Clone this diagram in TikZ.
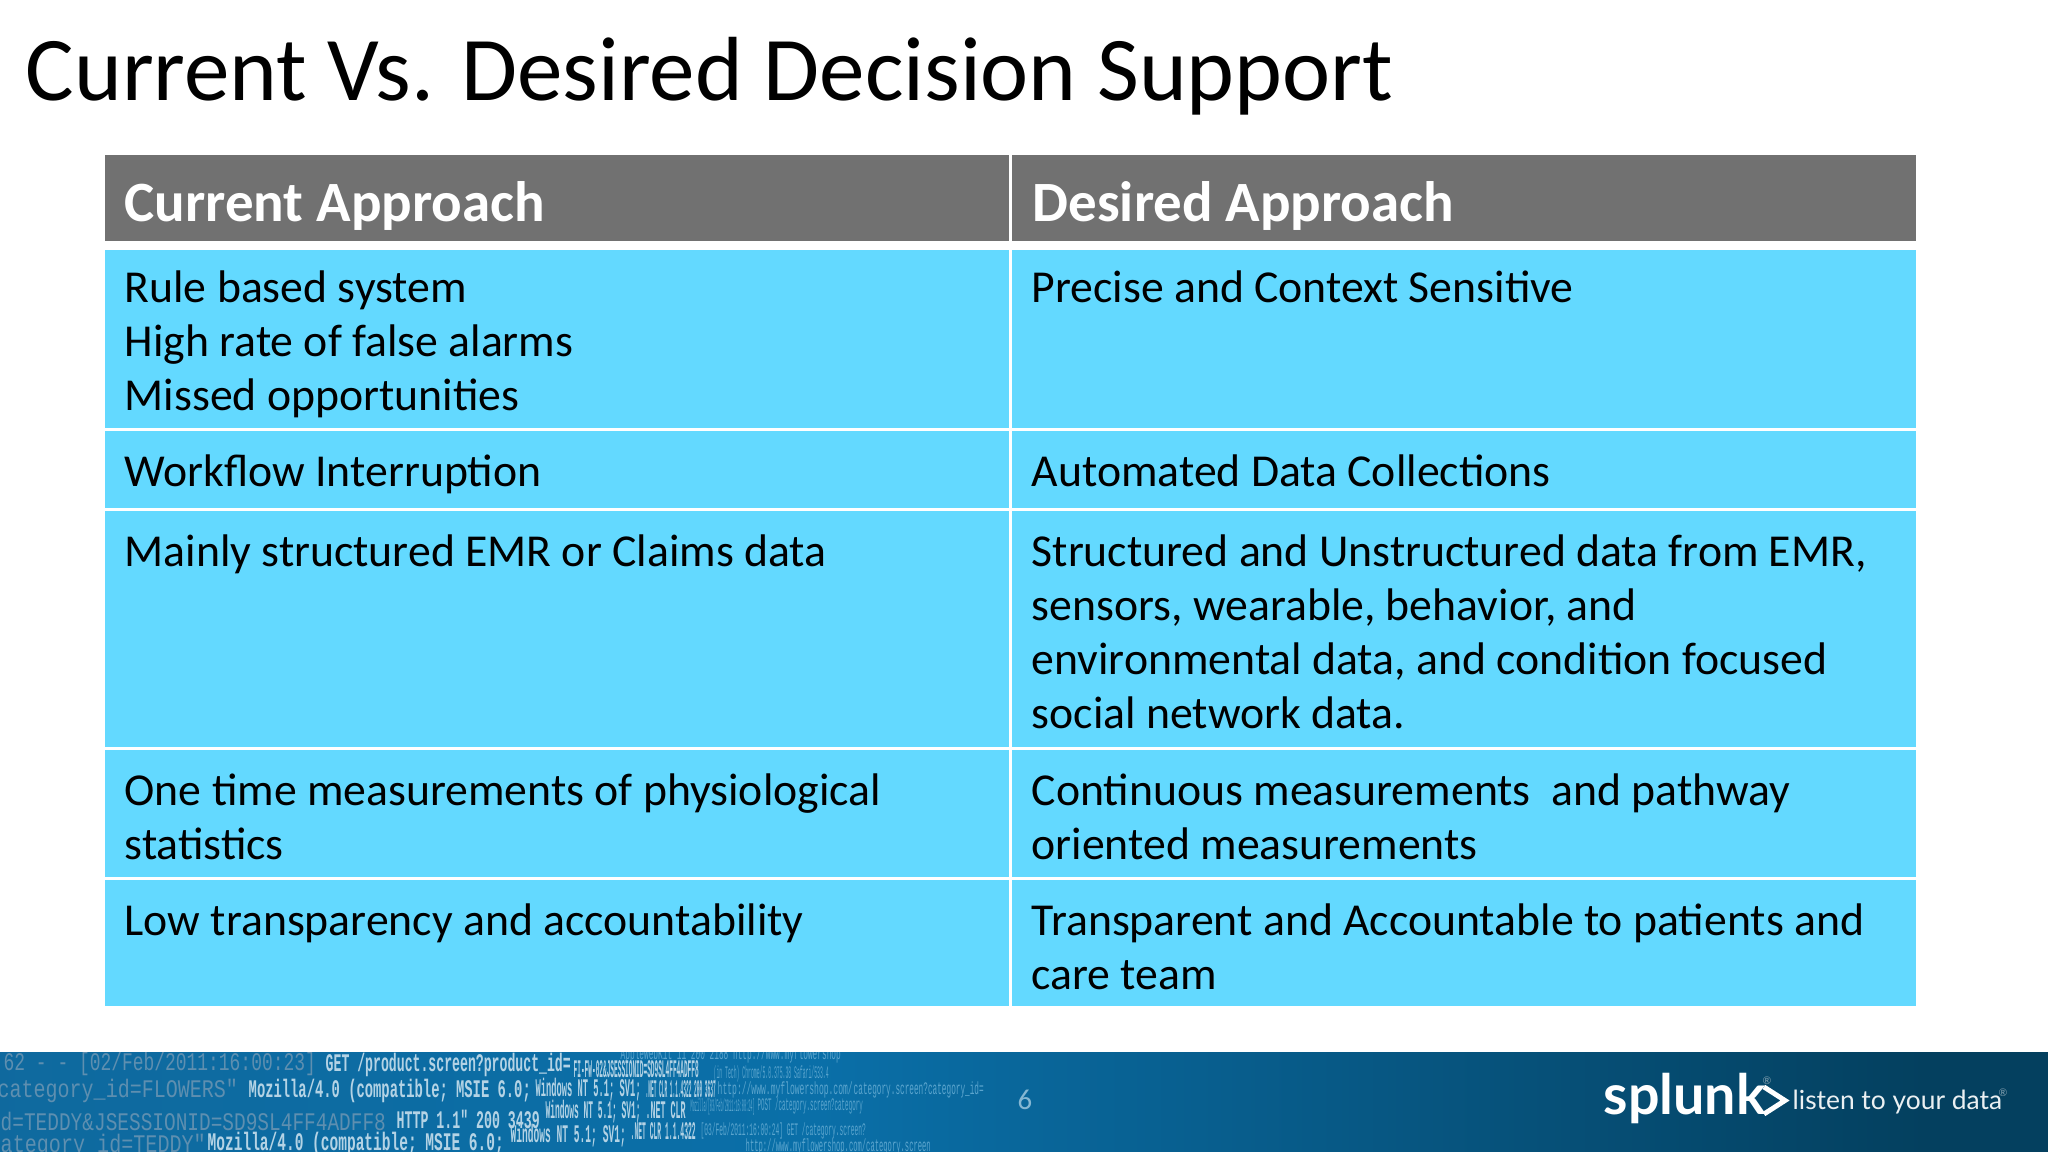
\documentclass[tikz,border=0pt]{standalone}
\usepackage{fontspec}
\setmainfont{Carlito}
\newfontfamily\logofont{Lato}
\newfontfamily\logmono{Liberation Mono}
\definecolor{footleft}{HTML}{2A6088}
\definecolor{footnear}{HTML}{10689C}
\definecolor{footmid}{HTML}{0A6FA8}
\definecolor{footright}{HTML}{04405F}
\definecolor{headgray}{HTML}{717171}
\definecolor{cellblue}{HTML}{63D9FF}
\definecolor{logdim}{HTML}{5E8FB0}
\definecolor{logbright}{HTML}{B4D3E5}
\definecolor{logfaint}{HTML}{5BA5CE}
\pgfdeclarehorizontalshading{footshade}{100bp}{
	color(0bp)=(footleft); color(20bp)=(footnear); color(45bp)=(footmid); color(72bp)=(footright); color(100bp)=(footright)}
\tikzset{
	headcell/.style = {fill = headgray},
	bodycell/.style = {fill = cellblue},
	titletext/.style = {anchor = north west, inner sep = 0pt, font = \fontsize{25.9}{32}\selectfont},
	headtext/.style = {anchor = north west, inner sep = 0pt, text = white, font = \fontsize{16.2}{18}\selectfont\bfseries},
	celltext/.style = {anchor = north west, inner sep = 0pt, align = left, font = \fontsize{13}{15.4}\selectfont},
	logdimseg/.style = {anchor = west, inner sep = 0pt, text = logdim, font = \logmono\fontsize{7.2}{8}\selectfont},
	logseg/.style = {anchor = west, inner sep = 0pt, text = logbright, font = \logmono\fontsize{7.2}{8}\selectfont\bfseries},
	logfaintseg/.style = {anchor = west, inner sep = 0pt, text = logfaint, font = \logmono\fontsize{5}{6}\selectfont}
}
\newcommand{\logpart}[6]{\node[#1] (#2) at (#3, #4) {\resizebox{#5cm}{\height}{#6}};}
\begin{document}
\begin{tikzpicture}[x = 0.01cm, y = -0.01cm]
		\useasboundingbox (0,0) rectangle (2048,1152);
		\fill[white] (0,0) rectangle (2048,1152);
		\node[titletext] (title) at (25, 37) {Current Vs. Desired Decision Support};
		% header
		\fill[headcell] (105,155) rectangle (1009,241);
		\fill[headcell] (1012,155) rectangle (1916,241);
		\node[headtext] (headcur) at (124, 181) {Current Approach};
		\node[headtext] (headdes) at (1032, 181) {Desired Approach};
		% rows
		\fill[bodycell] (105,250) rectangle (1009,428);
		\fill[bodycell] (1012,250) rectangle (1916,428);
		\fill[bodycell] (105,431) rectangle (1009,508);
		\fill[bodycell] (1012,431) rectangle (1916,508);
		\fill[bodycell] (105,511) rectangle (1009,747);
		\fill[bodycell] (1012,511) rectangle (1916,747);
		\fill[bodycell] (105,750) rectangle (1009,877);
		\fill[bodycell] (1012,750) rectangle (1916,877);
		\fill[bodycell] (105,880) rectangle (1009,1006);
		\fill[bodycell] (1012,880) rectangle (1916,1006);
		\node[celltext] (cura) at (124, 270) {Rule based system\\High rate of false alarms\\Missed opportunities};
		\node[celltext] (desa) at (1031, 270) {Precise and Context Sensitive};
		\node[celltext] (curb) at (124, 454) {Workflow Interruption};
		\node[celltext] (desb) at (1031, 454) {Automated Data Collections};
		\node[celltext] (curc) at (124, 534) {Mainly structured EMR or Claims data};
		\node[celltext] (desc) at (1031, 534) {Structured and Unstructured data from EMR,\\sensors, wearable, behavior, and\\environmental data, and condition focused\\social network data.};
		\node[celltext] (curd) at (124, 773) {One time measurements of physiological\\statistics};
		\node[celltext] (desd) at (1031, 773) {Continuous measurements \ and pathway\\oriented measurements};
		\node[celltext] (cure) at (124, 903) {Low transparency and accountability};
		\node[celltext] (dese) at (1031, 903) {Transparent and Accountable to patients and\\care team};
		% footer
		\shade[shading = footshade] (0,1052) rectangle (2048,1152);
		\begin{scope}
			\clip (0,1052) rectangle (2048,1152);
			\logpart{logfaintseg}{logtop}{620}{1055}{2.2}{AppleWebKit 11 200 2188 http://www.myflowershop}
			\logpart{logdimseg}{logaa}{3}{1064}{3.12}{62 - - [02/Feb/2011:16:00:23]}
			\logpart{logseg}{logab}{325}{1065}{2.45}{GET /product.screen?product\_id=}
			\logpart{logseg}{logac}{573}{1069}{1.25}{FI-FW-02\&JSESSIONID=SD9SL4FF4ADFF8}
			\logpart{logfaintseg}{logad}{713}{1074}{1.15}{(in Tech) Chrome/5.0.375.38 Safari/533.4}
			\logpart{logdimseg}{logba}{-3}{1091}{2.4}{category\_id=FLOWERS"}
			\logpart{logseg}{logbb}{248}{1091}{2.82}{Mozilla/4.0 (compatible; MSIE 6.0;}
			\logpart{logseg}{logbc}{535}{1090}{1.05}{Windows NT 5.1; SV1;}
			\logpart{logseg}{logbd}{645}{1089}{0.7}{.NET CLR 1.1.4322 200 3637}
			\logpart{logfaintseg}{logbe}{717}{1090}{1.35}{http://www.myflowershop.com/}
			\logpart{logfaintseg}{logbf}{853}{1090}{1.3}{category.screen?category\_id=}
			\logpart{logdimseg}{logca}{0}{1121}{3.85}{d=TEDDY\&JSESSIONID=SD9SL4FF4ADFF8}
			\logpart{logseg}{logcb}{396}{1119}{1.43}{HTTP 1.1" 200 3439}
			\logpart{logseg}{logcc}{545}{1112}{0.95}{Windows NT 5.1; SV1;}
			\logpart{logseg}{logcd}{645}{1110}{0.4}{.NET CLR}
			\logpart{logfaintseg}{logce}{690}{1107}{0.64}{Mozilla/[03/Feb/2011:16:00:24]}
			\logpart{logfaintseg}{logcf}{757}{1106}{1.05}{POST /category.screen?category}
			\logpart{logdimseg}{logda}{0}{1146}{2.05}{ategory\_id=TEDDY"}
			\logpart{logseg}{logdb}{207}{1144}{2.96}{Mozilla/4.0 (compatible; MSIE 6.0;}
			\logpart{logseg}{logdc}{510}{1136}{1.15}{Windows NT 5.1; SV1;}
			\logpart{logseg}{logdd}{630}{1131}{0.65}{.NET CLR 1.1.4322}
			\logpart{logfaintseg}{logde}{700}{1131}{1.65}{[03/Feb/2011:16:00:24] GET /category.screen?}
			\logpart{logfaintseg}{logea}{745}{1147}{1.85}{http://www.myflowershop.com/category.screen}
		\end{scope}
		\node[inner sep = 0pt, text = white!50!footmid, font = \fontsize{8.2}{10}\selectfont] (pagenum) at (1025, 1100) {6};
		% logo
		\node[anchor = west, inner sep = 0pt, text = white, font = \logofont\fontsize{15.8}{20}\selectfont\bfseries] (logo) at (1603, 1099) {splunk};
		\draw[white, line width = 1.4pt, miter limit = 10] (1764,1087) -- (1785,1100.5) -- (1764,1114);
		\node[inner sep = 0pt, text = white!50!footright, font = \logofont\fontsize{3}{4}\selectfont] (regmark) at (1767, 1081) {®};
		\node[anchor = west, inner sep = 0pt, text = white!92!footright, font = \logofont\fontsize{7.5}{9}\selectfont] (tagline) at (1792, 1102) {listen to your data};
		\node[inner sep = 0pt, text = white!50!footright, font = \logofont\fontsize{3}{4}\selectfont] (tagmark) at (2003, 1093) {®};
	\end{tikzpicture}
\end{document}
